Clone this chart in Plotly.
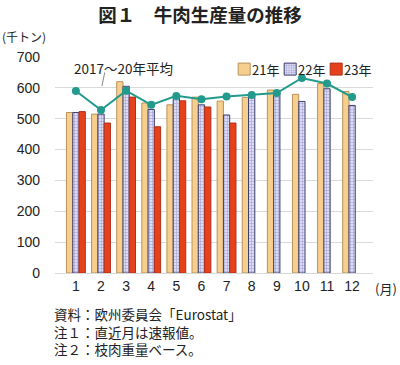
import plotly.graph_objects as go

months = ["1", "2", "3", "4", "5", "6", "7", "8", "9", "10", "11", "12"]
y21 = [520, 515, 620, 551, 545, 570, 557, 569, 593, 579, 614, 588]
y22 = [520, 515, 605, 530, 566, 545, 512, 574, 585, 556, 597, 543]
y23 = [523, 486, 570, 474, 558, 538, 486, None, None, None, None, None]
avg = [590, 528, 591, 545, 574, 563, 572, 577, 583, 632, 614, 570]
yticks = [0, 100, 200, 300, 400, 500, 600, 700]
series_names = ["21年", "22年", "23年"]

FONT = "Liberation Sans, Arial, Noto Sans CJK JP, sans-serif"
JP = "Noto Sans CJK JP, sans-serif"

fig = go.Figure()
fig.add_trace(go.Bar(
    x=months, y=y21, name=" ", meta=series_names[0],
    marker=dict(color="#F6CF8E", line=dict(color="#B8935A", width=1)),
))
fig.add_trace(go.Bar(
    x=months, y=y22, name="  ", meta=series_names[1],
    marker=dict(color="#D4D4F0", line=dict(color="#3E3E6E", width=1),
                pattern=dict(shape="+", fgcolor="#6A6AB0", bgcolor="#DCDCF4",
                             size=3, solidity=0.35)),
))
fig.add_trace(go.Bar(
    x=months, y=y23, name="   ", meta=series_names[2],
    marker=dict(color="#E5421C", line=dict(color="#B0301A", width=1)),
))
fig.add_trace(go.Scatter(
    x=months, y=avg, mode="lines+markers", showlegend=False,
    line=dict(color="#229A8C", width=2),
    marker=dict(color="#229A8C", size=8),
))

fig.update_layout(
    width=400, height=365,
    margin=dict(l=55, r=27, t=57, b=92, autoexpand=False),
    paper_bgcolor="white", plot_bgcolor="white",
    barmode="group", bargap=0.25, bargroupgap=0,
    font=dict(family=FONT, size=14, color="#222"),
    showlegend=True,
    # compact swatch-only legend; labels are placed as annotations beside the swatches
    legend=dict(orientation="h", x=0.532, xanchor="left", y=0.944, yanchor="middle",
                bgcolor="rgba(0,0,0,0)", font=dict(family=JP, size=2, color="rgba(0,0,0,0)"),
                itemwidth=30, entrywidth=1, entrywidthmode="pixels", tracegroupgap=0),
    title=dict(text="図１　牛肉生産量の推移", x=0.5, xanchor="center", y=0.957, yanchor="middle",
               font=dict(family=JP, size=18.5, color="#222", weight="bold")),
)
fig.update_xaxes(
    type="category", showgrid=False, showline=True, linecolor="#D9D9D9", linewidth=1,
    ticks="", automargin=False, tickfont=dict(family=FONT, size=14, color="#222"),
)
fig.update_yaxes(
    range=[0, 700], tickvals=yticks, showgrid=True, gridcolor="#D9D9D9", gridwidth=1,
    zeroline=False, showline=False, ticks="", ticklabelstandoff=14, automargin=False,
    tickfont=dict(family=FONT, size=14, color="#222"),
)

for nm, lx in zip(series_names, [0.613, 0.758, 0.903]):
    fig.add_annotation(text=nm, xref="paper", yref="paper", x=lx, y=0.944,
                       xanchor="left", yanchor="middle", showarrow=False,
                       font=dict(family=JP, size=13, color="#222"))

fig.add_annotation(text="(千トン)", xref="paper", yref="paper", x=-0.172, y=1.094,
                   xanchor="left", yanchor="middle", showarrow=False,
                   font=dict(family=JP, size=12, color="#222"))
fig.add_annotation(text="(月)", xref="paper", yref="paper", x=1.0, y=-0.074,
                   xanchor="left", yanchor="middle", showarrow=False,
                   font=dict(family=JP, size=13, color="#222"))
# leader line from the first average point
fig.add_annotation(text="", x=months[0], y=avg[0], xref="x", yref="y",
                   ax=4, ay=-20, showarrow=True,
                   arrowhead=0, arrowwidth=1, arrowcolor="#888", standoff=5)
fig.add_annotation(text="2017～20年平均", xref="paper", yref="paper", x=0.053, y=0.949,
                   xanchor="left", yanchor="middle", showarrow=False,
                   font=dict(family=JP, size=13.5, color="#222"))
notes = ["資料：欧州委員会「Eurostat」", "注１：直近月は速報値。", "注２：枝肉重量ベース。"]
fig.add_annotation(text="<br>".join(notes), xref="paper", yref="paper", x=-0.01, y=-0.176,
                   xanchor="left", yanchor="top", yshift=9, align="left", showarrow=False,
                   font=dict(family=JP, size=13.5, color="#222"))

fig.write_html("out.html", config={"displayModeBar": False},
               post_script="document.body.style.margin='0';")
